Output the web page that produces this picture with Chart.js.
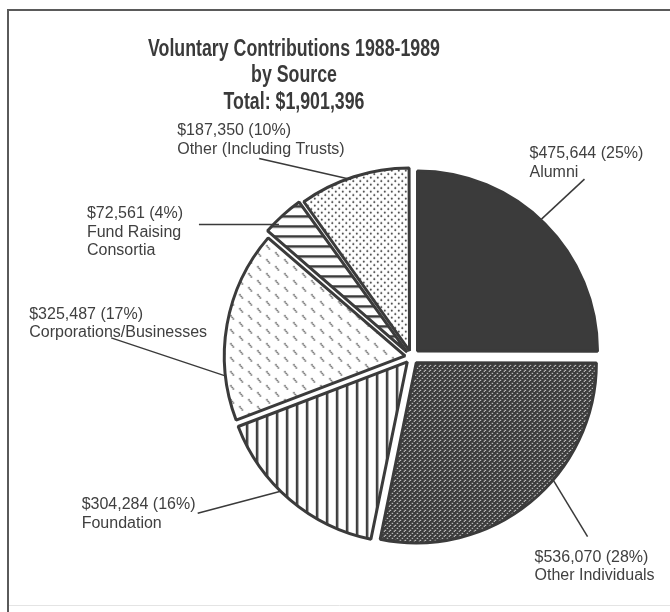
<!DOCTYPE html>
<html>
<head>
<meta charset="utf-8">
<script src="https://cdn.jsdelivr.net/npm/chart.js@4.4.0/dist/chart.umd.min.js"></script>
<style>
  body { margin: 0; background: #fff; }
</style>
</head>
<body>
<canvas id="pieChart" width="670" height="612"></canvas>
<script>
var titleLines = ["Voluntary Contributions 1988-1989", "by Source", "Total: $1,901,396"];
var sources = ["Alumni", "Other Individuals", "Foundation", "Corporations/Businesses", "Fund Raising|Consortia", "Other (Including Trusts)"];
var amounts = [475644, 536070, 304284, 325487, 72561, 187350];
var fillKinds = ["solid", "dotlines", "vlines", "dashes", "hlines", "dots"];

// label placement: fraction along the slice edge, leader vector, text offset from leader end
var labelSpots = [
  {frac: 0.48, dx: 43, dy: -40, tx: -55, ty: -21},
  {frac: 0.40, dx: 34, dy: 56, tx: -53, ty: 25},
  {frac: 0.57, dx: -83, dy: 22, tx: -116, ty: -4},
  {frac: 0.235, dx: -114, dy: -38, tx: -82, ty: -19},
  {frac: 0.30, dx: -80, dy: 0, tx: -112, ty: -6},
  {frac: 0.47, dx: -92, dy: -21, tx: -82, ty: -23}
];

var ink = "#3b3b3b";

function makePattern(kind) {
  if (kind === "solid") return ink;
  var c = document.createElement("canvas");
  var g = c.getContext("2d");
  if (kind === "dotlines") {
    c.width = 5; c.height = 5;
    g.fillStyle = ink; g.fillRect(0, 0, 5, 5);
    g.fillStyle = "#ffffff";
    g.fillRect(0, 4, 1.2, 1);
    g.fillRect(2, 2, 1.2, 1);
    g.fillRect(4, 0, 1, 1);
  } else if (kind === "vlines") {
    c.width = 10; c.height = 10;
    g.fillStyle = "#fff"; g.fillRect(0, 0, 10, 10);
    g.fillStyle = ink; g.fillRect(0, 0, 2.5, 10);
  } else if (kind === "hlines") {
    c.width = 10; c.height = 10;
    g.fillStyle = "#fff"; g.fillRect(0, 0, 10, 10);
    g.fillStyle = ink; g.fillRect(0, 0, 10, 2.5);
  } else if (kind === "dots") {
    c.width = 7; c.height = 7;
    g.fillStyle = "#fff"; g.fillRect(0, 0, 7, 7);
    g.fillStyle = ink;
    g.beginPath(); g.arc(1.75, 1.75, 1, 0, Math.PI * 2); g.fill();
    g.beginPath(); g.arc(5.25, 5.25, 1, 0, Math.PI * 2); g.fill();
  } else if (kind === "dashes") {
    // short "\" marks, staggered
    c.width = 18; c.height = 14;
    g.fillStyle = "#fff"; g.fillRect(0, 0, 18, 14);
    g.fillStyle = ink;
    var marks = [[4.5, 10.5], [13.5, 3.5]];
    for (var m = 0; m < marks.length; m++) {
      for (var k = -1; k <= 1; k++) {
        g.beginPath();
        g.arc(marks[m][0] + k * 1.2, marks[m][1] + k * 1.6, 0.8, 0, Math.PI * 2);
        g.fill();
      }
    }
  }
  return g.createPattern(c, "repeat");
}

var fills = fillKinds.map(makePattern);
var total = amounts.reduce(function(a, b) { return a + b; }, 0);

var framePlugin = {
  id: "frame",
  beforeDraw: function(chart) {
    var ctx = chart.ctx;
    ctx.save();
    ctx.fillStyle = "#fff";
    ctx.fillRect(0, 0, chart.width, chart.height);
    ctx.strokeStyle = "#5a5a5a";
    ctx.lineWidth = 2;
    ctx.beginPath();
    ctx.moveTo(8, 612); ctx.lineTo(8, 10); ctx.lineTo(670, 10);
    ctx.stroke();
    ctx.strokeStyle = "#e4e4e4";
    ctx.lineWidth = 1;
    ctx.beginPath();
    ctx.moveTo(9, 605.5); ctx.lineTo(670, 605.5);
    ctx.stroke();
    ctx.restore();
  }
};

var textPlugin = {
  id: "pieText",
  afterDraw: function(chart) {
    var ctx = chart.ctx;
    ctx.save();
    // title, squeezed to look like the condensed face of the original
    ctx.fillStyle = "#3a3a3a";
    ctx.textAlign = "center";
    ctx.textBaseline = "alphabetic";
    ctx.font = "bold 23px 'Liberation Sans', Arial, sans-serif";
    var squeeze = 292 / ctx.measureText(titleLines[0]).width;
    for (var t = 0; t < titleLines.length; t++) {
      ctx.save();
      ctx.translate(294, 55.5 + t * 26.5);
      ctx.scale(squeeze, 1);
      ctx.fillText(titleLines[t], 0, 0);
      ctx.restore();
    }
    // slice labels with leader lines
    var arcs = chart.getDatasetMeta(0).data;
    ctx.font = "16px 'Liberation Sans', Arial, sans-serif";
    ctx.fillStyle = "#404040";
    ctx.textAlign = "left";
    ctx.strokeStyle = "#3a3a3a";
    ctx.lineWidth = 1.5;
    for (var i = 0; i < arcs.length; i++) {
      var a = arcs[i];
      var spot = labelSpots[i];
      var mid = (a.startAngle + a.endAngle) / 2;
      var shift = (a.options.offset || 0) / 4;
      var ang = a.startAngle + spot.frac * (a.endAngle - a.startAngle);
      var sx = a.x + Math.cos(mid) * shift + Math.cos(ang) * (a.outerRadius + 1);
      var sy = a.y + Math.sin(mid) * shift + Math.sin(ang) * (a.outerRadius + 1);
      var ex = sx + spot.dx, ey = sy + spot.dy;
      ctx.beginPath();
      ctx.moveTo(sx, sy); ctx.lineTo(ex, ey);
      ctx.stroke();
      var pct = Math.round(amounts[i] / total * 100);
      var lines = ["$" + amounts[i].toLocaleString("en-US") + " (" + pct + "%)"].concat(sources[i].split("|"));
      for (var l = 0; l < lines.length; l++) {
        ctx.fillText(lines[l], ex + spot.tx, ey + spot.ty + l * 18.5);
      }
    }
    ctx.restore();
  }
};

var ctx = document.getElementById("pieChart").getContext("2d");
var pie = new Chart(ctx, {
  type: "pie",
  data: {
    labels: sources.map(function(s) { return s.replace("|", " "); }),
    datasets: [{
      data: amounts,
      backgroundColor: fills,
      borderColor: ink,
      borderWidth: 3,
      offset: [34, 30, 26, 26, 26, 26],
      hoverOffset: 0
    }]
  },
  options: {
    responsive: false,
    animation: false,
    layout: {
      padding: {left: 213, right: 60, top: 158.5, bottom: 56.5}
    },
    plugins: {
      legend: { display: false },
      tooltip: { enabled: false },
      title: { display: false }
    }
  },
  plugins: [framePlugin, textPlugin]
});
</script>
</body>
</html>
